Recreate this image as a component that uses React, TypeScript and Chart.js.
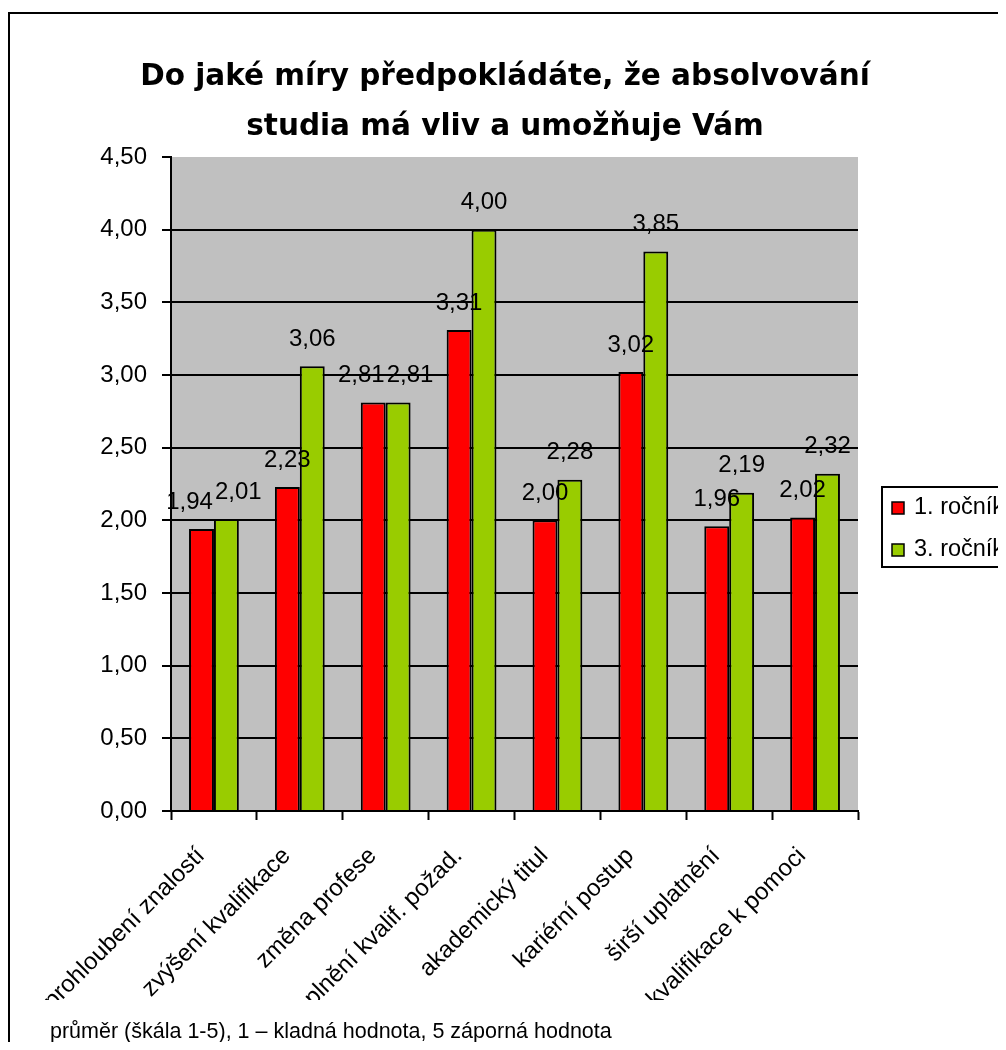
import React, { useEffect, useRef } from "react";
import { Chart, registerables } from "chart.js";

Chart.register(...registerables);

const categories = [
  "prohloubení znalostí",
  "zvýšení kvalifikace",
  "změna profese",
  "splnění kvalif. požad.",
  "akademický titul",
  "kariérní postup",
  "širší uplatnění",
  "kvalifikace k pomoci",
];
const series1Label = "1. ročník";
const series1 = [1.94, 2.23, 2.81, 3.31, 2.0, 3.02, 1.96, 2.02];
const series2Label = "3. ročník";
const series2 = [2.01, 3.06, 2.81, 4.0, 2.28, 3.85, 2.19, 2.32];
const titleLines = ["Do jaké míry předpokládáte, že absolvování", "studia má vliv a umožňuje Vám"];
const footnote = "průměr (škála 1-5), 1 – kladná hodnota, 5 záporná hodnota";
const yMin = 0;
const yMax = 4.5;
const yStep = 0.5;

const W = 998;
const H = 1034;
const FONT = "'Liberation Sans', Arial, sans-serif";

const fmt = (v: number) => v.toFixed(2).replace(".", ",");

const excelPlugin = {
  id: "excelLook",
  beforeDraw(chart: any) {
    const { ctx, chartArea: a } = chart;
    ctx.save();
    ctx.fillStyle = "#C0C0C0";
    ctx.fillRect(a.left, a.top, a.right - a.left, a.bottom - a.top);
    ctx.restore();
  },
  afterDatasetsDraw(chart: any) {
    const ctx = chart.ctx;
    ctx.save();
    ctx.font = `24px ${FONT}`;
    ctx.fillStyle = "#000";
    ctx.textAlign = "center";
    ctx.textBaseline = "middle";
    const m0 = chart.getDatasetMeta(0);
    const m1 = chart.getDatasetMeta(1);
    const d0 = chart.data.datasets[0].data;
    const d1 = chart.data.datasets[1].data;
    for (let j = 0; j < d0.length; j++) {
      const b0 = m0.data[j];
      const b1 = m1.data[j];
      const t0 = fmt(d0[j]);
      const t1 = fmt(d1[j]);
      let x0 = b0.x;
      let x1 = b1.x;
      const y0 = b0.y - 27;
      const y1 = b1.y - 27;
      const w0 = ctx.measureText(t0).width;
      const w1 = ctx.measureText(t1).width;
      // keep neighbouring labels from overlapping
      if (Math.abs(y0 - y1) < 24) {
        const need = (w0 + w1) / 2 + 2;
        const gap = x1 - x0;
        if (gap < need) {
          const shift = (need - gap) / 2;
          x0 -= shift;
          x1 += shift;
        }
      }
      ctx.fillText(t0, x0, y0);
      ctx.fillText(t1, x1, y1);
    }
    ctx.restore();
  },
  afterDraw(chart: any) {
    const ctx = chart.ctx;
    ctx.save();
    // outer frame
    ctx.strokeStyle = "#000";
    ctx.lineWidth = 2;
    ctx.strokeRect(1, 5, chart.width + 20, chart.height + 20);
    // legend
    ctx.strokeRect(874, 479, 200, 80);
    ctx.font = `23.5px ${FONT}`;
    ctx.textAlign = "left";
    ctx.textBaseline = "middle";
    chart.data.datasets.forEach((ds: any, i: number) => {
      const cy = 500 + i * 42;
      ctx.fillStyle = ds.backgroundColor;
      ctx.fillRect(884, cy - 6, 12, 12);
      ctx.lineWidth = 1.5;
      ctx.strokeStyle = "#000";
      ctx.strokeRect(884, cy - 6, 12, 12);
      ctx.fillStyle = "#000";
      ctx.fillText(ds.label, 906, cy);
    });
    // footnote
    ctx.font = `21.5px ${FONT}`;
    ctx.fillStyle = "#000";
    ctx.textAlign = "left";
    ctx.textBaseline = "middle";
    ctx.fillText(footnote, 42, 1024);
    ctx.restore();
  },
};

export default function App() {
  const ref = useRef<HTMLCanvasElement>(null);
  useEffect(() => {
    if (!ref.current) return;
    const chart = new Chart(ref.current, {
      type: "bar",
      data: {
        labels: categories,
        datasets: [
          {
            label: series1Label,
            data: series1,
            backgroundColor: "#FF0000",
            borderColor: "#000000",
            borderWidth: 2,
            categoryPercentage: 0.58,
            barPercentage: 1,
          },
          {
            label: series2Label,
            data: series2,
            backgroundColor: "#99CC00",
            borderColor: "#000000",
            borderWidth: 2,
            categoryPercentage: 0.58,
            barPercentage: 1,
          },
        ],
      },
      options: {
        responsive: false,
        animation: false,
        devicePixelRatio: 1,
        layout: { padding: { left: 0, right: 4, top: 0, bottom: 42 } },
        plugins: {
          legend: { display: false },
          tooltip: { enabled: false },
          title: {
            display: true,
            text: titleLines,
            color: "#000",
            font: { family: "'DejaVu Sans', sans-serif", size: 29.5, weight: "bold", lineHeight: "50px" },
            padding: { top: 44, bottom: 5 },
          },
        },
        scales: {
          x: {
            afterFit: (s: any) => {
              s.height = 189;
            },
            grid: {
              offset: true,
              drawOnChartArea: false,
              drawTicks: true,
              tickLength: 9,
              tickColor: "#000",
              tickWidth: 2,
              color: "#000",
            },
            border: { color: "#000", width: 2 },
            ticks: {
              color: "#000",
              font: { family: FONT, size: 24 },
              maxRotation: 45,
              minRotation: 45,
              autoSkip: false,
              padding: 22,
              labelOffset: -13,
            },
          },
          y: {
            min: yMin,
            max: yMax,
            afterFit: (s: any) => {
              s.width = 163;
            },
            grid: {
              color: (c: any) => (c.tick && c.tick.value === yMax ? "rgba(0,0,0,0)" : "#000"),
              lineWidth: 2,
              tickColor: "#000",
              tickLength: 9,
              tickWidth: 2,
            },
            border: { color: "#000", width: 2 },
            ticks: {
              stepSize: yStep,
              color: "#000",
              font: { family: FONT, size: 24 },
              padding: 15,
              callback: (v: any) => fmt(Number(v)),
            },
          },
          spacer: {
            type: "linear",
            position: "right",
            display: true,
            afterFit: (s: any) => {
              s.width = 144;
            },
            grid: { display: false },
            border: { display: false },
            ticks: { display: false },
          },
        },
      },
      plugins: [excelPlugin],
    });
    return () => chart.destroy();
  }, []);
  return (
    <div style={{ width: W, height: H, overflow: "hidden" }}>
      <canvas ref={ref} width={W} height={H} style={{ display: "block", width: W, height: H }} />
    </div>
  );
}
